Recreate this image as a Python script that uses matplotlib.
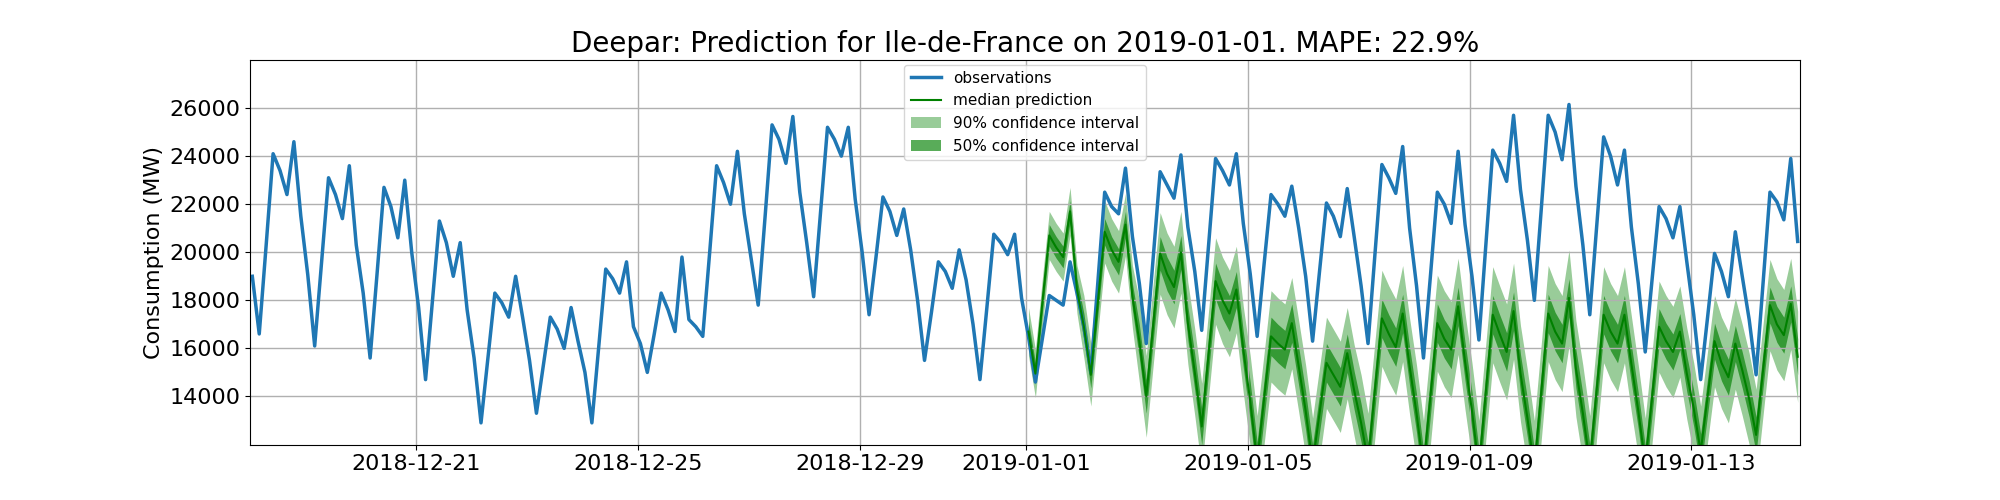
import numpy as np
import pandas as pd
import matplotlib
matplotlib.use("Agg")
import matplotlib.pyplot as plt
import matplotlib.dates as mdates

# ---------------- DATA (3-hourly readings: 01,04,07,10,13,16,19,22 h) ----------------
obs_start = "2018-12-18 01:00"
observations = [
    19000, 16600, 20300, 24100, 23400, 22400, 24600, 21500,   # 12-18
    19070, 16100, 19600, 23100, 22400, 21400, 23600, 20300,   # 12-19
    18300, 15600, 19100, 22700, 21900, 20600, 23000, 20000,   # 12-20
    17700, 14700, 18000, 21300, 20400, 19000, 20400, 17600,   # 12-21
    15600, 12900, 15600, 18300, 17900, 17300, 19000, 17300,   # 12-22
    15500, 13300, 15300, 17300, 16800, 16000, 17700, 16300,   # 12-23
    15000, 12900, 16100, 19300, 18900, 18300, 19600, 16900,   # 12-24
    16200, 15000, 16600, 18300, 17600, 16700, 19800, 17200,   # 12-25
    16900, 16500, 20000, 23600, 22900, 22000, 24200, 21600,   # 12-26
    19700, 17800, 21500, 25300, 24700, 23700, 25650, 22500,   # 12-27
    20400, 18150, 21700, 25200, 24700, 24000, 25200, 22200,   # 12-28
    20000, 17400, 19800, 22300, 21700, 20700, 21800, 20100,   # 12-29
    18000, 15500, 17500, 19600, 19200, 18500, 20100, 18850,   # 12-30
    17000, 14700, 17700, 20750, 20400, 19900, 20750, 18100,   # 12-31
    16500, 14600, 16400, 18200, 18000, 17800, 19600, 18300,   # 01-01
    16900, 15000, 18700, 22500, 21900, 21600, 23500, 20650,   # 01-02
    18700, 16200, 19800, 23350, 22800, 22250, 24050, 21050,   # 01-03
    19200, 16750, 20300, 23900, 23400, 22800, 24100, 21200,   # 01-04
    19100, 16500, 19500, 22400, 22000, 21500, 22750, 21000,   # 01-05
    19000, 16300, 19200, 22050, 21500, 20650, 22650, 20650,   # 01-06
    18600, 16200, 19900, 23650, 23100, 22450, 24400, 21000,   # 01-07
    18600, 15600, 19000, 22500, 22000, 21200, 24200, 21150,   # 01-08
    19000, 16350, 20300, 24250, 23700, 22950, 25700, 22600,   # 01-09
    20500, 18000, 21800, 25700, 25000, 23850, 26150, 22750,   # 01-10
    20300, 17400, 21100, 24800, 24000, 22800, 24250, 21050,   # 01-11
    18700, 15850, 18900, 21900, 21400, 20600, 21900, 19600,   # 01-12
    17400, 14700, 17300, 19950, 19200, 18150, 20850, 19000,   # 01-13
    17200, 14900, 18700, 22500, 22100, 21350, 23900, 20450,   # 01-14
]

pred_start = "2019-01-01 01:00"
median_pred = [
    16700, 14950, 17900, 20700, 20200, 19800, 21700, 18450,   # 01-01
    16900, 14900, 17900, 20850, 20100, 19600, 21150, 18150,   # 01-02
    16300, 14000, 17000, 19950, 19100, 18550, 20000, 17050,   # 01-03
    15000, 12750, 15800, 18800, 18000, 17450, 18450, 15950,   # 01-04
    13800, 11300, 13900, 16500, 16200, 15950, 17050, 15250,   # 01-05
    13400, 11200, 13300, 15400, 14900, 14400, 15800, 14250,   # 01-06
    12900, 11300, 14300, 17250, 16600, 16050, 17450, 15250,   # 01-07
    13300, 11000, 14000, 17050, 16400, 15950, 17750, 15450,   # 01-08
    13400, 11000, 14200, 17400, 16600, 15850, 17550, 14950,   # 01-09
    13100, 11000, 14200, 17450, 16700, 16200, 18100, 15150,   # 01-10
    13300, 11200, 14300, 17400, 16700, 16200, 17400, 15350,   # 01-11
    13400, 11200, 14000, 16900, 16300, 15850, 16700, 14950,   # 01-12
    13500, 11700, 14000, 16300, 15400, 14800, 16200, 15100,   # 01-13
    13900, 12400, 15100, 17800, 17000, 16550, 17850, 15650,   # 01-14
]

# half-width of the intervals, one value per forecast day
half90_daily = [1000, 1300, 1700, 1800, 1900, 1900, 2000, 2000, 2000, 2000, 2000, 1900, 1900, 1900]
half50_daily = [450, 550, 700, 750, 800, 800, 800, 800, 800, 800, 800, 750, 750, 750]

# ---------------- FIGURE ----------------
obs_t = pd.date_range(obs_start, periods=len(observations), freq="3h")
pred_t = pd.date_range(pred_start, periods=len(median_pred), freq="3h")
med = np.array(median_pred, dtype=float)
h90 = np.repeat(half90_daily, 8)
h50 = np.repeat(half50_daily, 8)

fig = plt.figure(figsize=(20, 5), dpi=100)
ax = fig.add_subplot(111)
fig.subplots_adjust(left=0.125, right=0.9, bottom=0.111, top=0.88)

ax.plot(obs_t, observations, color="#1f77b4", linewidth=2.5, label="observations")
ax.plot(pred_t, med, color="green", linewidth=1.5, label="median prediction")
ax.fill_between(pred_t, med - h90, med + h90, color="green", alpha=0.4, linewidth=0,
                label="90% confidence interval")
ax.fill_between(pred_t, med - h50, med + h50, color="green", alpha=0.65, linewidth=0,
                label="50% confidence interval")

ax.set_xlim(pd.Timestamp("2018-12-18 00:00"), pd.Timestamp("2019-01-14 23:00"))
ax.set_ylim(12000, 28000)
ax.set_yticks(np.arange(14000, 26001, 2000))
ticks = pd.to_datetime(["2018-12-21", "2018-12-25", "2018-12-29", "2019-01-01",
                        "2019-01-05", "2019-01-09", "2019-01-13"])
ax.set_xticks(ticks)
ax.xaxis.set_major_formatter(mdates.DateFormatter("%Y-%m-%d"))
ax.tick_params(labelsize=16)
ax.grid(True, color="#b0b0b0", linewidth=1)

ax.set_ylabel("Consumption (MW)", fontsize=16)
ax.set_title("Deepar: Prediction for Ile-de-France on 2019-01-01. MAPE: 22.9%", fontsize=20)
ax.legend(loc="upper center", fontsize=11, borderaxespad=0.3)

fig.savefig("out.png", dpi=100)
